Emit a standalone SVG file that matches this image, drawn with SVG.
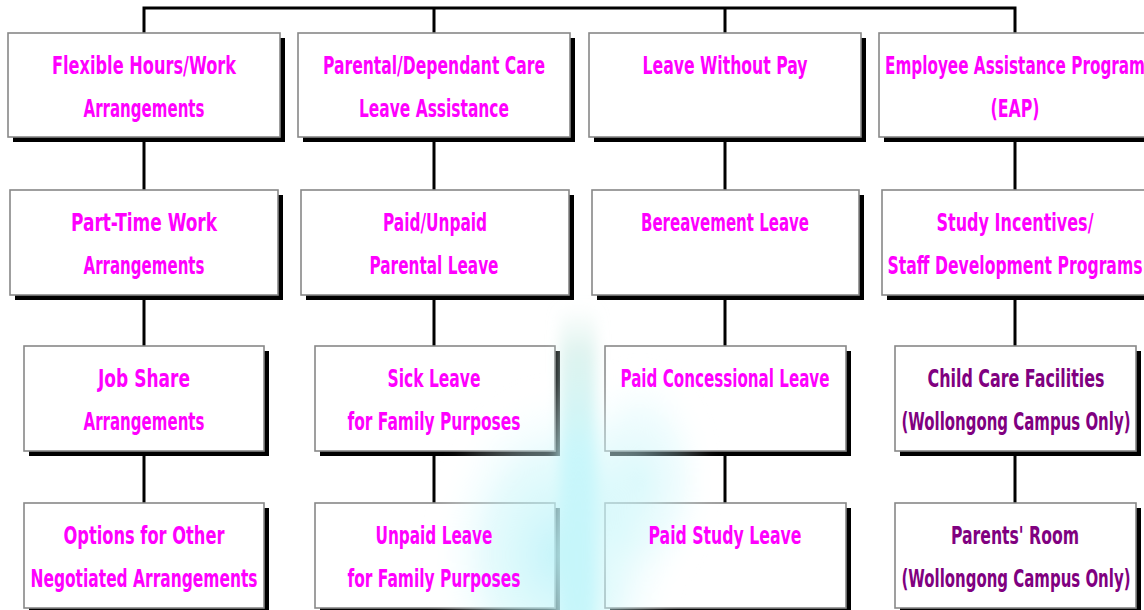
<svg xmlns="http://www.w3.org/2000/svg" width="1144" height="610" viewBox="0 0 1144 610">
<defs>
<style>
.sh{fill:#000}
.bx{fill:#fff;stroke:#888;stroke-width:1.6}
.t{font-family:"DejaVu Sans Condensed","DejaVu Sans",sans-serif;font-weight:bold;font-size:25px;fill:#ff00ff;text-anchor:middle}
.p{fill:#800080}
.c{stroke:#000;stroke-width:3;fill:none}
</style>
<radialGradient id="glow" cx="0.5" cy="0.5" r="0.5">
<stop offset="0" stop-color="#b8f2f8" stop-opacity="0.8"/>
<stop offset="0.55" stop-color="#c8f6fa" stop-opacity="0.45"/>
<stop offset="1" stop-color="#ffffff" stop-opacity="0"/>
</radialGradient>
<linearGradient id="band" x1="0" y1="0" x2="0" y2="1">
<stop offset="0" stop-color="#d8efe8" stop-opacity="0"/>
<stop offset="0.15" stop-color="#d0eee8" stop-opacity="0.7"/>
<stop offset="0.45" stop-color="#c4f6fa" stop-opacity="0.85"/>
<stop offset="1" stop-color="#c4f6fa" stop-opacity="0.9"/>
</linearGradient>
<filter id="soft" x="-50%" y="-20%" width="200%" height="140%"><feGaussianBlur stdDeviation="7"/></filter>
</defs>
<rect width="1144" height="610" fill="#fff"/>
<g id="connectors">
<path class="c" d="M144 33V8H1015V33M434 8V33M725 8V33"/>
<path class="c" d="M144 137V190M434 137V190M725 137V190M1015 137V190"/>
<path class="c" d="M144 295V346M434 295V346M725 295V346M1015 295V346"/>
<path class="c" d="M144 451V503M434 451V503M725 451V503M1015 451V503"/>
</g>
<g id="boxes">
<g id="n11"><rect class="sh" x="13" y="38" width="272" height="104"/><rect class="bx" x="8" y="33" width="272" height="104"/></g>
<g id="n12"><rect class="sh" x="303" y="38" width="272" height="104"/><rect class="bx" x="298" y="33" width="272" height="104"/></g>
<g id="n13"><rect class="sh" x="594" y="38" width="272" height="104"/><rect class="bx" x="589" y="33" width="272" height="104"/></g>
<g id="n14"><rect class="sh" x="884" y="38" width="272" height="104"/><rect class="bx" x="879" y="33" width="272" height="104"/></g>
<g id="n21"><rect class="sh" x="15" y="195" width="268" height="105"/><rect class="bx" x="10" y="190" width="268" height="105"/></g>
<g id="n22"><rect class="sh" x="306" y="195" width="268" height="105"/><rect class="bx" x="301" y="190" width="268" height="105"/></g>
<g id="n23"><rect class="sh" x="597" y="195" width="267" height="105"/><rect class="bx" x="592" y="190" width="267" height="105"/></g>
<g id="n24"><rect class="sh" x="887" y="195" width="268" height="105"/><rect class="bx" x="882" y="190" width="268" height="105"/></g>
<g id="n31"><rect class="sh" x="29" y="351" width="240" height="105"/><rect class="bx" x="24" y="346" width="240" height="105"/></g>
<g id="n32"><rect class="sh" x="320" y="351" width="240" height="105"/><rect class="bx" x="315" y="346" width="240" height="105"/></g>
<g id="n33"><rect class="sh" x="610" y="351" width="241" height="105"/><rect class="bx" x="605" y="346" width="241" height="105"/></g>
<g id="n34"><rect class="sh" x="900" y="351" width="241" height="105"/><rect class="bx" x="895" y="346" width="241" height="105"/></g>
<g id="n41"><rect class="sh" x="29" y="508" width="240" height="105"/><rect class="bx" x="24" y="503" width="240" height="105"/></g>
<g id="n42"><rect class="sh" x="320" y="508" width="240" height="105"/><rect class="bx" x="315" y="503" width="240" height="105"/></g>
<g id="n43"><rect class="sh" x="610" y="508" width="241" height="105"/><rect class="bx" x="605" y="503" width="241" height="105"/></g>
<g id="n44"><rect class="sh" x="900" y="508" width="241" height="105"/><rect class="bx" x="895" y="503" width="241" height="105"/></g>
</g>
<g id="decoration" filter="url(#soft)">
<ellipse cx="555" cy="555" rx="125" ry="175" fill="url(#glow)"/>
<ellipse cx="640" cy="480" rx="75" ry="120" fill="url(#glow)" opacity="0.6"/>
<rect x="560" y="305" width="36" height="320" fill="url(#band)"/>
</g>
<g id="labels">
<text class="t" x="144" y="74" textLength="184" lengthAdjust="spacingAndGlyphs">Flexible Hours/Work</text>
<text class="t" x="144" y="117" textLength="121" lengthAdjust="spacingAndGlyphs">Arrangements</text>
<text class="t" x="434" y="74" textLength="222" lengthAdjust="spacingAndGlyphs">Parental/Dependant Care</text>
<text class="t" x="434" y="117" textLength="150" lengthAdjust="spacingAndGlyphs">Leave Assistance</text>
<text class="t" x="725" y="74" textLength="165" lengthAdjust="spacingAndGlyphs">Leave Without Pay</text>
<text class="t" x="1015" y="74" textLength="260" lengthAdjust="spacingAndGlyphs">Employee Assistance Program</text>
<text class="t" x="1015" y="117" textLength="49" lengthAdjust="spacingAndGlyphs">(EAP)</text>
<text class="t" x="144" y="231" textLength="146" lengthAdjust="spacingAndGlyphs">Part-Time Work</text>
<text class="t" x="144" y="274" textLength="121" lengthAdjust="spacingAndGlyphs">Arrangements</text>
<text class="t" x="435" y="231" textLength="104" lengthAdjust="spacingAndGlyphs">Paid/Unpaid</text>
<text class="t" x="434" y="274" textLength="129" lengthAdjust="spacingAndGlyphs">Parental Leave</text>
<text class="t" x="725" y="231" textLength="168" lengthAdjust="spacingAndGlyphs">Bereavement Leave</text>
<text class="t" x="1015" y="231" textLength="157" lengthAdjust="spacingAndGlyphs">Study Incentives/</text>
<text class="t" x="1015" y="274" textLength="255" lengthAdjust="spacingAndGlyphs">Staff Development Programs</text>
<text class="t" x="144" y="387" textLength="92" lengthAdjust="spacingAndGlyphs">Job Share</text>
<text class="t" x="144" y="430" textLength="121" lengthAdjust="spacingAndGlyphs">Arrangements</text>
<text class="t" x="434" y="387" textLength="93" lengthAdjust="spacingAndGlyphs">Sick Leave</text>
<text class="t" x="434" y="430" textLength="173" lengthAdjust="spacingAndGlyphs">for Family Purposes</text>
<text class="t" x="725" y="387" textLength="209" lengthAdjust="spacingAndGlyphs">Paid Concessional Leave</text>
<text class="t p" x="1016" y="387" textLength="177" lengthAdjust="spacingAndGlyphs">Child Care Facilities</text>
<text class="t p" x="1016" y="430" textLength="229" lengthAdjust="spacingAndGlyphs">(Wollongong Campus Only)</text>
<text class="t" x="144" y="544" textLength="161" lengthAdjust="spacingAndGlyphs">Options for Other</text>
<text class="t" x="144" y="587" textLength="227" lengthAdjust="spacingAndGlyphs">Negotiated Arrangements</text>
<text class="t" x="434" y="544" textLength="117" lengthAdjust="spacingAndGlyphs">Unpaid Leave</text>
<text class="t" x="434" y="587" textLength="173" lengthAdjust="spacingAndGlyphs">for Family Purposes</text>
<text class="t" x="725" y="544" textLength="153" lengthAdjust="spacingAndGlyphs">Paid Study Leave</text>
<text class="t p" x="1015" y="544" textLength="128" lengthAdjust="spacingAndGlyphs">Parents' Room</text>
<text class="t p" x="1016" y="587" textLength="229" lengthAdjust="spacingAndGlyphs">(Wollongong Campus Only)</text>
</g>
</svg>
